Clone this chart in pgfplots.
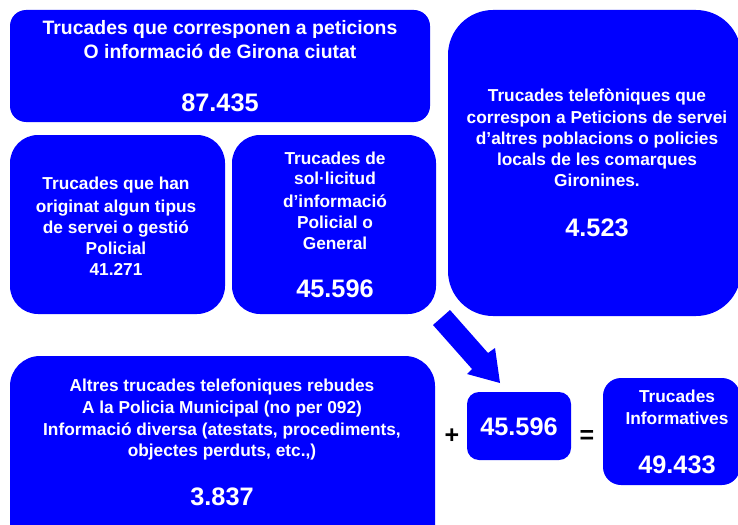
\documentclass[border=0pt]{standalone}
\usepackage{fontspec}
\setmainfont{Liberation Sans}
\usepackage{pgfplots}
\pgfplotsset{compat=1.18}
\definecolor{pblue}{RGB}{0,0,255}
\newcommand{\fs}[1]{\fontsize{#1bp}{#1bp}\selectfont\bfseries}
\newcommand{\tl}[4]{\node[anchor=base,inner sep=0pt,text=white,font=\fs{#4}] at (axis cs:#1,#2) {#3};}
\begin{document}
\begin{tikzpicture}
\begin{axis}[width=738bp,height=525bp,scale only axis,
  xmin=0,xmax=738,ymin=0,ymax=525,y dir=reverse,hide axis,clip=true]
% boxes (pixel coordinates of their corners)
\addplot[fill=pblue,draw=none,rounded corners=16bp] coordinates {(220,10)(430,10)(430,122)(10,122)(10,10)} -- cycle;
\addplot[fill=pblue,draw=none,rounded corners=45bp] coordinates {(595,10)(741,10)(741,316)(448,316)(448,10)} -- cycle;
\addplot[fill=pblue,draw=none,rounded corners=28bp] coordinates {(117,135)(225,135)(225,314)(10,314)(10,135)} -- cycle;
\addplot[fill=pblue,draw=none,rounded corners=28bp] coordinates {(334,135)(436,135)(436,314)(232,314)(232,135)} -- cycle;
\addplot[fill=pblue,draw=none,rounded corners=30bp] coordinates {(222,356)(435,356)(435,560)(10,560)(10,356)} -- cycle;
\addplot[fill=pblue,draw=none,rounded corners=12bp] coordinates {(519,392)(571,392)(571,460)(467,460)(467,392)} -- cycle;
\addplot[fill=pblue,draw=none,rounded corners=18bp] coordinates {(671,378)(740,378)(740,485)(603,485)(603,378)} -- cycle;
% arrow
\addplot[fill=pblue,draw=none] coordinates {(433,325)(450,310)(488,353)(495,348)(500,383)(467,374)(472,369)} -- cycle;
% texts
\tl{220}{34.6}{Trucades que corresponen a peticions}{19.4}
\tl{220}{58.6}{O informació de Girona ciutat}{19.4}
\tl{220}{111.6}{87.435}{25.3}
\tl{116}{189}{Trucades que han}{17.3}
\tl{116}{212}{originat algun tipus}{17.3}
\tl{116}{233}{de servei o gestió}{17.3}
\tl{116}{254}{Policial}{17.3}
\tl{116}{275}{41.271}{17.3}
\tl{335}{164}{Trucades de}{17.3}
\tl{335}{184}{sol·licitud}{17.3}
\tl{335}{207}{d’informació}{17.3}
\tl{335}{228}{Policial o}{17.3}
\tl{335}{249}{General}{17.3}
\tl{335}{297.6}{45.596}{25.3}
\tl{597}{101}{Trucades telefòniques que}{17.3}
\tl{597}{123}{correspon a Peticions de servei}{17.3}
\tl{597}{144}{d’altres poblacions o policies}{17.3}
\tl{597}{165}{locals de les comarques}{17.3}
\tl{597}{186}{Gironines.}{17.3}
\tl{597}{236.6}{4.523}{25.3}
\tl{222}{391}{Altres trucades telefoniques rebudes}{17.3}
\tl{222}{413}{A la Policia Municipal (no per 092)}{17.3}
\tl{222}{435}{Informació diversa (atestats, procediments,}{17.3}
\tl{222}{456}{objectes perduts, etc.,)}{17.3}
\tl{222}{505.6}{3.837}{25.3}
\tl{519}{435.6}{45.596}{25.3}
\tl{677}{402}{Trucades}{17.3}
\tl{677}{424}{Informatives}{17.3}
\tl{677}{473.6}{49.433}{25.3}
\node[anchor=base,inner sep=0pt,text=black,font=\fs{25}] at (axis cs:452,443) {+};
\node[anchor=base,inner sep=0pt,text=black,font=\fs{25}] at (axis cs:587,443) {=};
\end{axis}
\pgfresetboundingbox
\path[use as bounding box] (current axis.south west) rectangle (current axis.north east);
\end{tikzpicture}
\end{document}
